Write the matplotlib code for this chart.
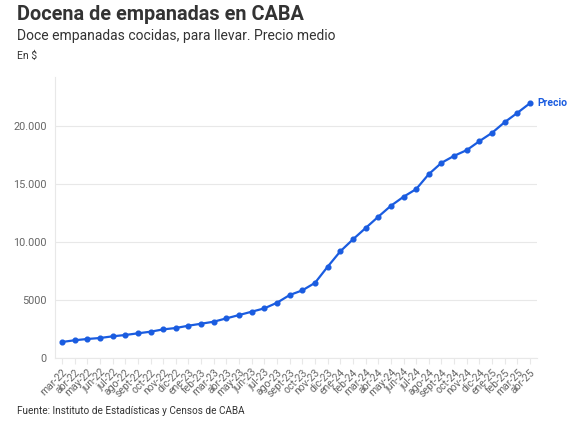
import matplotlib
matplotlib.use("Agg")
import matplotlib.pyplot as plt
from matplotlib.ticker import FixedLocator

plt.rcParams['font.family'] = ['Roboto', 'DejaVu Sans']

months = ["mar-22", "abr-22", "may-22", "jun-22", "jul-22", "ago-22", "sept-22", "oct-22",
          "nov-22", "dic-22", "ene-23", "feb-23", "mar-23", "abr-23", "may-23", "jun-23",
          "jul-23", "ago-23", "sept-23", "oct-23", "nov-23", "dic-23", "ene-24", "feb-24",
          "mar-24", "abr-24", "may-24", "jun-24", "jul-24", "ago-24", "sept-24", "oct-24",
          "nov-24", "dic-24", "ene-25", "feb-25", "mar-25", "abr-25"]
precio = [1340, 1490, 1600, 1685, 1830, 1945, 2090, 2230, 2430, 2550, 2750, 2920, 3095,
          3385, 3670, 3960, 4250, 4735, 5400, 5805, 6450, 7845, 9175, 10210, 11190, 12165,
          13115, 13895, 14560, 15855, 16830, 17435, 17930, 18705, 19425, 20350, 21150, 21990]
yticks = [0, 5000, 10000, 15000, 20000]
ytick_labels = ["0", "5000", "10.000", "15.000", "20.000"]

blue = "#1a5ce0"
grid = "#e8e8e8"
txt = "#666666"

fig = plt.figure(figsize=(5.77, 4.22), dpi=100)
ax = fig.add_axes([55/577, 1-357.5/422, (537-55)/577, (357.5-77)/422])

x = list(range(len(months)))
ax.plot(x, precio, color=blue, lw=1.6, marker='o', ms=3.4, zorder=3)
ax.text(x[-1] + 0.55, precio[-1], "Precio", color=blue, fontsize=7.5, fontweight='bold',
        va='center', ha='left', clip_on=False)

ax.set_xlim(-0.55, len(months) - 0.45)
ax.set_ylim(0, 24250)
ax.yaxis.set_major_locator(FixedLocator(yticks))
ax.set_yticklabels(ytick_labels)
ax.set_xticks(x)
ax.set_xticklabels(months, rotation=45, ha='right', va='top', rotation_mode='anchor')

for s in ['top', 'right']:
    ax.spines[s].set_visible(False)
ax.spines['left'].set_color(grid)
ax.spines['bottom'].set_color(grid)
ax.grid(axis='y', color=grid, lw=0.8)
ax.set_axisbelow(True)
ax.tick_params(axis='y', length=0, pad=6, labelsize=7.8, labelcolor=txt)
ax.tick_params(axis='x', length=4, color=grid, pad=3, labelsize=7.5, labelcolor=txt)

fig.text(17/577, 1-14/422, "Docena de empanadas en CABA", fontsize=14.3, fontweight='bold',
         color="#333333", va='center', ha='left')
fig.text(17/577, 1-36/422, "Doce empanadas cocidas, para llevar. Precio medio", fontsize=10,
         color="#333333", va='center', ha='left')
fig.text(17/577, 1-56/422, "En $", fontsize=7.5, color="#333333", va='center', ha='left')
fig.text(17/577, 1-411/422, "Fuente: Instituto de Estadísticas y Censos de CABA", fontsize=7.2,
         color="#333333", va='center', ha='left')

fig.savefig("out.png", dpi=100)
